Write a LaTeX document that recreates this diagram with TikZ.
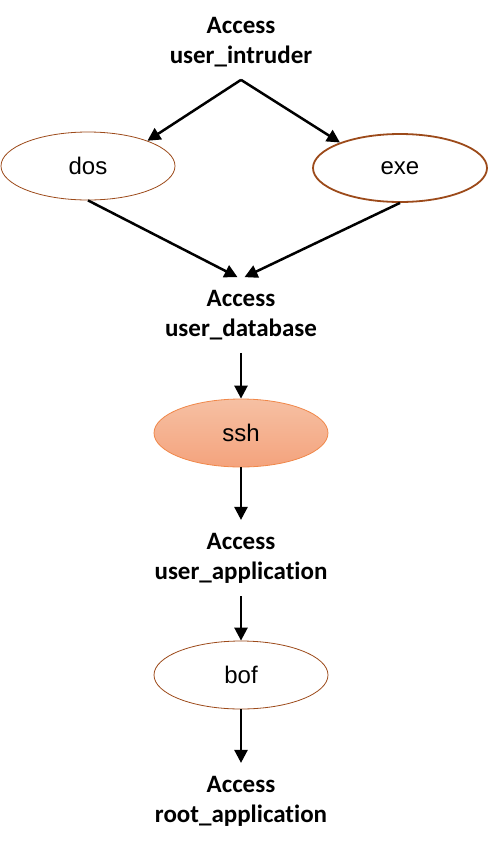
\documentclass[tikz,border=0pt]{standalone}
\usepackage{fontspec}
\setmainfont{Liberation Sans}
\newfontfamily\accfont[Ligatures=NoCommon]{Carlito}
\usetikzlibrary{arrows.meta,shapes.geometric}
\definecolor{brun}{HTML}{9C4A1A}
\definecolor{orangeclair}{HTML}{F6C0A3}
\definecolor{orangefonce}{HTML}{F4A37D}
\definecolor{orangebord}{HTML}{F0884A}
\begin{document}
\begin{tikzpicture}[x=1pt,y=-1pt,
    acces/.style={font=\accfont\bfseries\fontsize{25}{30}\selectfont, align=center, inner sep=0pt, outer sep=13pt},
    attaque/.style={ellipse, draw=brun, minimum width=174pt, minimum height=68pt, inner sep=0pt, font=\fontsize{24}{28}\selectfont},
    fleche/.style={-{Triangle[length=13pt,width=13pt]}, line width=2.5pt}]
    \useasboundingbox (0,0) rectangle (488,844);
    % Privileges
    \node[acces] (intruder) at (241,42) {Access\\user\_intruder};
    \node[acces] (database) at (241,315) {Access\\user\_database};
    \node[acces] (application) at (241,558) {Access\\user\_application};
    \node[acces] (rootapp) at (241,801) {Access\\root\_application};
    % Attaques
    \node[attaque, line width=0.8pt] (dos) at (88,166) {dos};
    \node[attaque, line width=1.8pt] (exe) at (400,168) {exe};
    \node[attaque, draw=orangebord, line width=0.8pt, top color=orangeclair, bottom color=orangefonce] (ssh) at (241,433) {ssh};
    \node[attaque, line width=0.8pt] (bof) at (241,675) {bof};
    % Fleches
    \draw[fleche] (intruder.south) -- (dos.23);
    \draw[fleche] (intruder.south) -- (exe.157);
    \draw[fleche] (dos.south) -- ([xshift=-3.5pt]database.north);
    \draw[fleche] (exe.south) -- ([xshift=3.5pt]database.north);
    \draw[fleche] (database) -- (ssh);
    \draw[fleche] (ssh) -- (application);
    \draw[fleche] (application) -- (bof);
    \draw[fleche] (bof) -- (rootapp);
\end{tikzpicture}
\end{document}
